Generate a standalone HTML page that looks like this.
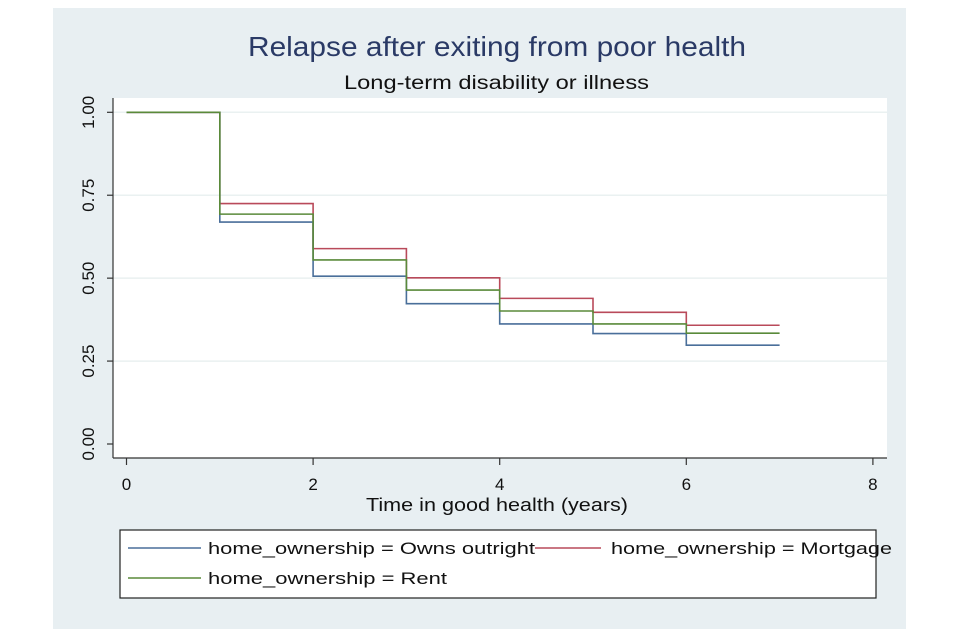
<!DOCTYPE html>
<html><head><meta charset="utf-8"><style>
body{margin:0;background:#fff;}
svg{display:block;font-family:"Liberation Sans",sans-serif;}
</style></head><body>
<svg width="960" height="640">
<rect x="53" y="8" width="853" height="621" fill="#e8eff2"/>
<rect x="113" y="98" width="774" height="360" fill="#fff"/>
<text x="248" y="56" font-size="28" textLength="498" lengthAdjust="spacingAndGlyphs" fill="#2a3a66">Relapse after exiting from poor health</text>
<text x="344" y="89" font-size="19" textLength="305" lengthAdjust="spacingAndGlyphs" fill="#111">Long-term disability or illness</text>
<g id="grid"></g>
<g id="axes"></g>
<g id="series"></g>
<text x="366" y="511" font-size="18" textLength="262" lengthAdjust="spacingAndGlyphs" fill="#111">Time in good health (years)</text>
<g>
<rect x="120" y="530" width="756" height="68" fill="#fff" stroke="#222" stroke-width="1.2"/>
<g><line x1="128" y1="548" x2="201" y2="548" stroke="#4a6f9a" stroke-width="1.6"/><text x="208" y="554" font-size="17" textLength="327" lengthAdjust="spacingAndGlyphs" fill="#111">home_ownership = Owns outright</text></g>
<g><line x1="535" y1="548" x2="601" y2="548" stroke="#b94a5a" stroke-width="1.6"/><text x="611" y="554" font-size="17" textLength="281" lengthAdjust="spacingAndGlyphs" fill="#111">home_ownership = Mortgage</text></g>
<g><line x1="128" y1="578" x2="201" y2="578" stroke="#5a8a3a" stroke-width="1.6"/><text x="208" y="584" font-size="17" textLength="239" lengthAdjust="spacingAndGlyphs" fill="#111">home_ownership = Rent</text></g>
</g>
</svg>
<script>
const times=[0,1,2,3,4,5,6,7];
const ownsOutright=[1,0.669,0.506,0.423,0.362,0.333,0.298];
const mortgage=[1,0.725,0.589,0.501,0.439,0.397,0.358];
const rent=[1,0.693,0.555,0.464,0.401,0.362,0.334];
const xTicks=[0,2,4,6,8];
const yTicks=[0,0.25,0.5,0.75,1];
const yTickLabels=["0.00","0.25","0.50","0.75","1.00"];
const NS="http://www.w3.org/2000/svg";
const X=v=>126.5+v*93.3;
const Y=v=>444-v*331.7;
function mk(t,a,p){const e=document.createElementNS(NS,t);for(const k in a)e.setAttribute(k,a[k]);p.appendChild(e);return e;}
const grid=document.getElementById('grid'),axes=document.getElementById('axes'),ser=document.getElementById('series');
yTicks.forEach((v,i)=>{
 if(v>0){const g=mk('line',{x1:113,x2:887,y1:Y(v),y2:Y(v),stroke:'#eaf1f1','stroke-width':1.5},grid);
 
 }
 const t=mk('line',{x1:107,x2:113,y1:Y(v),y2:Y(v),stroke:'#333','stroke-width':1.2},axes);
 
 
 const l=mk('text',{x:0,y:0,transform:`translate(94,${Y(v)}) rotate(-90)`,'text-anchor':'middle','font-size':17,fill:'#111'},axes);
 l.textContent=yTickLabels[i];
 
 
});
xTicks.forEach(v=>{
 const t=mk('line',{x1:X(v),x2:X(v),y1:458,y2:465,stroke:'#333','stroke-width':1.2},axes);
 
 
 const l=mk('text',{x:X(v),y:490,'text-anchor':'middle','font-size':17,fill:'#111'},axes);
 l.textContent=v;
 
 
});
const ya=mk('line',{x1:113,x2:113,y1:98,y2:458,stroke:'#333','stroke-width':1.2},axes);


const xa=mk('line',{x1:113,x2:887,y1:458,y2:458,stroke:'#333','stroke-width':1.2},axes);


function step(vals,color,name){
 let d=`M${X(times[0])},${Y(vals[0])}`;
 for(let i=0;i<vals.length;i++){
  d+=` H${X(times[i+1])}`;
  if(i+1<vals.length)d+=` V${Y(vals[i+1])}`;
 }
 const p=mk('path',{d:d,fill:'none',stroke:color,'stroke-width':1.6},ser);
 
 
}
step(mortgage,'#b94a5a','series-mortgage');
step(ownsOutright,'#4a6f9a','series-owns-outright');
step(rent,'#5a8a3a','series-rent');
</script>
</body></html>
